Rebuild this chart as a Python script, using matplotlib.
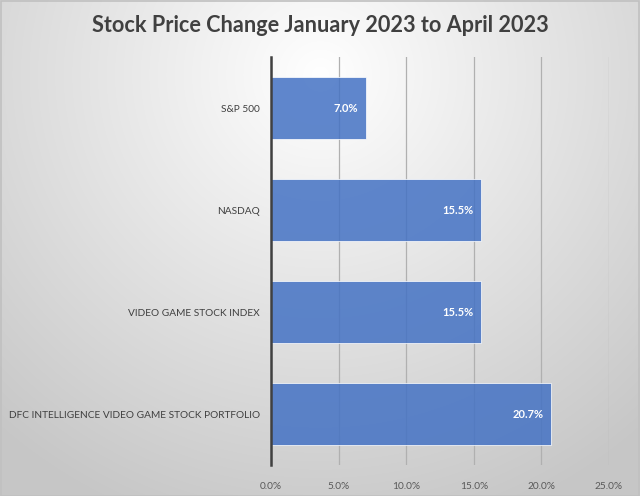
import numpy as np
import matplotlib
matplotlib.use("Agg")
import matplotlib.pyplot as plt
from matplotlib.ticker import FuncFormatter, MultipleLocator

categories = ["DFC INTELLIGENCE VIDEO GAME STOCK PORTFOLIO", "VIDEO GAME STOCK INDEX", "NASDAQ", "S&P 500"]
values = [20.7, 15.5, 15.5, 7.0]
title = "Stock Price Change January 2023 to April 2023"

plt.rcParams['font.family'] = ['Lato', 'DejaVu Sans']

W, H = 640, 496
fig = plt.figure(figsize=(W/100, H/100), dpi=100)

# radial gradient background
bg = fig.add_axes([0, 0, 1, 1], zorder=-10)
yy, xx = np.mgrid[0:H, 0:W]
cx, cy = W*0.5, H*0.15
r = np.sqrt(((xx-cx)/(W*0.75))**2 + ((yy-cy)/(H*0.95))**2)
r = np.clip(r, 0, 1)
val = 1.0 - 0.22*r
img = np.dstack([val, val, val])
bg.imshow(img, aspect='auto', extent=[0, 1, 0, 1], origin='upper')
bg.set_xlim(0, 1); bg.set_ylim(0, 1)
bg.axis('off')
bg.add_patch(plt.Rectangle((0.0008, 0.001), 0.998, 0.997, fill=False, edgecolor='#c0c0c0', lw=1.2, transform=bg.transAxes))

left = 271/W
right = 609/W
top = 1 - 57/H
bottom = 1 - 465/H
ax = fig.add_axes([left, bottom, right-left, top-bottom])
ax.patch.set_alpha(0)

y = np.arange(len(categories))
bars = ax.barh(y, values, height=0.6, color='#4472C4', alpha=0.85, edgecolor='#ffffff', linewidth=0.6, zorder=3)
ax.set_yticks(y)
ax.set_yticklabels(categories, fontsize=7.3, color='#404040')
ax.set_ylim(-0.5, len(categories)-0.5)
ax.set_xlim(0, 25)
ax.xaxis.set_major_locator(MultipleLocator(5))
ax.xaxis.set_major_formatter(FuncFormatter(lambda v, p: f"{v:.1f}%"))
ax.tick_params(axis='x', labelsize=7.3, colors='#595959', length=0, pad=12)
ax.tick_params(axis='y', length=0, pad=8)
ax.grid(axis='x', color='#b0b0b0', lw=0.9, zorder=1)
for s in ['top', 'right', 'bottom']:
    ax.spines[s].set_visible(False)
ax.spines['left'].set_color('#404040')
ax.spines['left'].set_linewidth(1.8)
ax.spines['left'].set_zorder(4)

for yi, v in zip(y, values):
    ax.text(v - 0.55, yi, f"{v:.1f}%", ha='right', va='center', color='white', fontsize=8, fontweight='bold', zorder=5)

fig.text(0.5, 1 - 25/H, title, ha='center', va='center', fontsize=15.6, fontweight='bold', color='#404040')

fig.savefig("out.png", dpi=100)
